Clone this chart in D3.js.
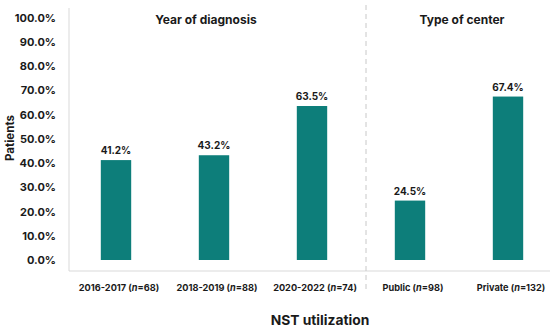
<!DOCTYPE html>
<html>
<head>
<meta charset="utf-8">
<script src="https://cdn.jsdelivr.net/npm/d3@7"></script>
<style>
  body { margin: 0; background: #fff; }
  svg { display: block; font-family: Inter, "Open Sans", Arial, sans-serif; }
</style>
</head>
<body>
<div id="chart"></div>
<script>
// Data
const periods = ['2016-2017', '2018-2019', '2020-2022', 'Public', 'Private'];
const counts = [68, 88, 74, 98, 132];
const utilization = [0.412, 0.432, 0.635, 0.245, 0.674];
const groupTitles = ['Year of diagnosis', 'Type of center'];
const yTicks = [0, 0.1, 0.2, 0.3, 0.4, 0.5, 0.6, 0.7, 0.8, 0.9, 1.0];

const width = 550;
const height = 328;

const svg = d3.select('#chart').append('svg')
  .attr('width', width)
  .attr('height', height);

const x = d3.scaleBand()
  .domain(periods)
  .range([67, 557])
  .paddingInner(0.69)
  .paddingOuter(0.345);

const y = d3.scaleLinear()
  .domain([0, 1])
  .range([260, 17.5]);

const gridColor = '#d9d9d9';
const textColor = '#1a1a1a';
const barColor = '#0d7e7a';

// Left and bottom frame lines
svg.append('line')
  .attr('x1', 69).attr('x2', 69)
  .attr('y1', 8).attr('y2', 271)
  .attr('stroke', gridColor).attr('stroke-width', 1);

svg.append('line')
  .attr('x1', 69).attr('x2', width)
  .attr('y1', 271).attr('y2', 271)
  .attr('stroke', gridColor).attr('stroke-width', 1);

// Dashed separator between groups
const sepX = (x('2020-2022') + x('Public') + x.bandwidth()) / 2 + 5;
svg.append('line')
  .attr('x1', sepX).attr('x2', sepX)
  .attr('y1', 5).attr('y2', 292)
  .attr('stroke', '#c8c8c8')
  .attr('stroke-width', 1)
  .attr('stroke-dasharray', '5,4');

// Y axis tick labels
const yAxis = d3.axisLeft(y)
  .tickValues(yTicks)
  .tickFormat(d3.format('.1%'))
  .tickSize(0)
  .tickPadding(0);

svg.append('g')
  .attr('transform', 'translate(56,0)')
  .call(yAxis)
  .call(g => g.select('.domain').remove())
  .call(g => g.selectAll('text')
    .attr('font-size', '11px')
    .attr('font-weight', 'bold')
    .attr('font-family', 'Inter, "Open Sans", Arial, sans-serif')
    .attr('fill', textColor));

// Bars
svg.append('g')
  .selectAll('rect')
  .data(periods)
  .join('rect')
  .attr('x', d => x(d))
  .attr('y', (d, i) => y(utilization[i]))
  .attr('width', x.bandwidth())
  .attr('height', (d, i) => y(0) - y(utilization[i]))
  .attr('fill', barColor);

// Value labels
svg.append('g')
  .selectAll('text')
  .data(periods)
  .join('text')
  .attr('x', d => x(d) + x.bandwidth() / 2)
  .attr('y', (d, i) => y(utilization[i]) - 6)
  .attr('text-anchor', 'middle')
  .attr('font-size', '10px')
  .attr('font-weight', 'bold')
  .attr('fill', textColor)
  .text((d, i) => d3.format('.1%')(utilization[i]));

// Category labels with italic n
const catLabels = svg.append('g')
  .selectAll('text')
  .data(periods)
  .join('text')
  .attr('x', d => x(d) + x.bandwidth() / 2 + 3)
  .attr('y', 291)
  .attr('text-anchor', 'middle')
  .attr('font-size', '9.2px')
  .attr('font-weight', 'bold')
  .attr('fill', textColor);

catLabels.append('tspan').text(d => d + ' (');
catLabels.append('tspan').attr('font-style', 'italic').text('n');
catLabels.append('tspan').text((d, i) => '=' + counts[i] + ')');

// Group titles
const groupCenters = [x('2018-2019') + x.bandwidth() / 2 - 8, (x('Public') + x('Private') + x.bandwidth()) / 2 + 3];
svg.append('g')
  .selectAll('text')
  .data(groupTitles)
  .join('text')
  .attr('x', (d, i) => groupCenters[i])
  .attr('y', 24)
  .attr('text-anchor', 'middle')
  .attr('font-size', '12px')
  .attr('font-weight', 'bold')
  .attr('fill', textColor)
  .text(d => d);

// Axis titles
svg.append('text')
  .attr('transform', 'translate(14,138) rotate(-90)')
  .attr('text-anchor', 'middle')
  .attr('font-size', '11.5px')
  .attr('font-weight', 'bold')
  .attr('fill', textColor)
  .text('Patients');

svg.append('text')
  .attr('x', 320)
  .attr('y', 325)
  .attr('text-anchor', 'middle')
  .attr('font-size', '13.8px')
  .attr('font-weight', 'bold')
  .attr('fill', textColor)
  .text('NST utilization');
</script>
</body>
</html>
